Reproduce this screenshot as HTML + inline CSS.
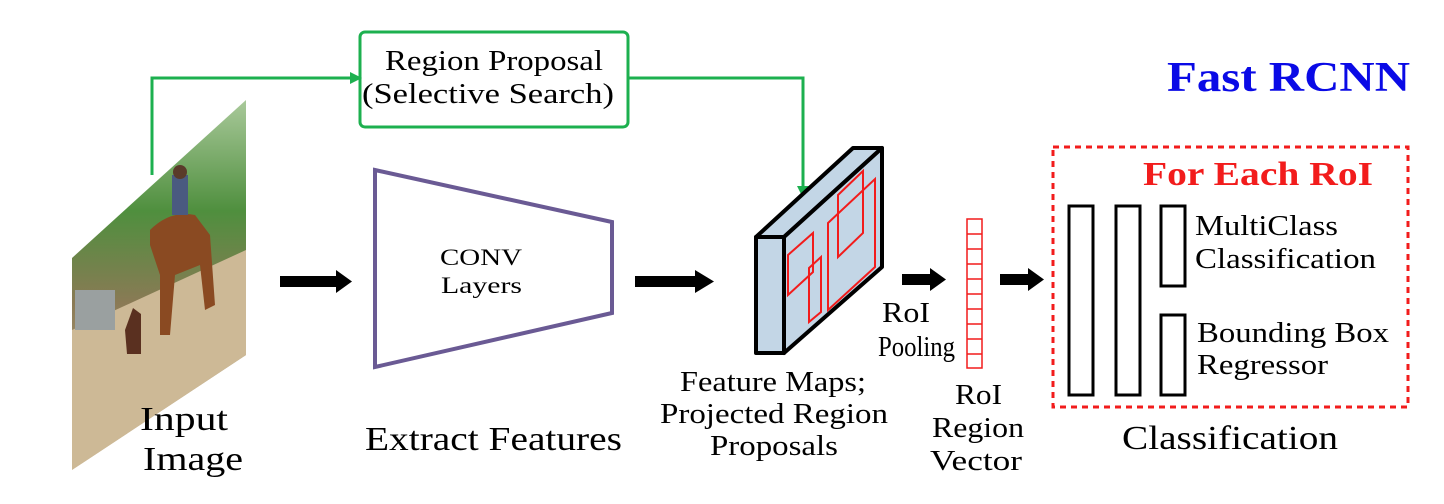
<!DOCTYPE html>
<html><head><meta charset="utf-8"><style>
html,body{margin:0;padding:0;background:#fff;}
svg{display:block;}
svg text{font-family:"Liberation Serif","Times New Roman","DejaVu Serif",serif !important;fill:#000;}
</style></head><body>
<svg width="1444" height="504" viewBox="0 0 1444 504" xmlns="http://www.w3.org/2000/svg" font-family="Liberation Serif, Times New Roman, DejaVu Serif, serif">
<defs>
<linearGradient id="img" x1="0" y1="0" x2="0" y2="1">
<stop offset="0" stop-color="#a9c99a"/><stop offset="0.3" stop-color="#4f8f3e"/><stop offset="0.55" stop-color="#8a7a55"/><stop offset="1" stop-color="#d6c3a3"/>
</linearGradient>
<clipPath id="pc"><polygon points="72,258 246,100 246,355 72,470"/></clipPath>
</defs>
<polygon points="72,258 246,100 246,355 72,470" fill="url(#img)"/>
<g clip-path="url(#pc)">
<polygon points="72,330 246,250 246,360 72,470" fill="#cdb996"/>
<rect x="75" y="290" width="40" height="40" fill="#9aa0a0"/>
<path d="M150,230 q20,-20 45,-15 l15,20 l5,70 l-10,5 l-5,-45 l-25,10 l-5,60 l-10,0 l0,-60 l-10,-30z" fill="#8a4a22"/>
<rect x="172" y="175" width="16" height="40" fill="#4a5a80"/>
<circle cx="180" cy="172" r="7" fill="#5a3a2a"/>
<path d="M125,330 l8,-22 l8,6 l0,40 l-14,0z" fill="#5a3020"/>
</g>
<g stroke="#1db04f" stroke-width="3" fill="none">
<polyline points="152,175 152,78 352,78"/>
<polyline points="628,78 803,78 803,188"/>
<rect x="360" y="32" width="268" height="95" rx="5"/>
</g>
<polygon points="350,72 362,78 350,84" fill="#1db04f"/>
<polygon points="797,186 803,198 809,186" fill="#1db04f"/>
<g lengthAdjust="spacingAndGlyphs">
<text x="385" y="70" font-size="28" textLength="218" lengthAdjust="spacingAndGlyphs">Region Proposal</text>
<text x="362" y="103" font-size="28" textLength="252" lengthAdjust="spacingAndGlyphs">(Selective Search)</text>
<text x="1167" y="91" font-size="42" font-weight="bold" textLength="243" lengthAdjust="spacingAndGlyphs" style="fill:#0a0ae6">Fast RCNN</text>
<text x="440" y="265" font-size="23" textLength="82" lengthAdjust="spacingAndGlyphs">CONV</text>
<text x="441" y="293" font-size="23" textLength="81" lengthAdjust="spacingAndGlyphs">Layers</text>
<text x="1143" y="185" font-size="34" font-weight="bold" textLength="230" lengthAdjust="spacingAndGlyphs" style="fill:#f21c1c">For Each RoI</text>
<text x="1195" y="235" font-size="28" textLength="143" lengthAdjust="spacingAndGlyphs">MultiClass</text>
<text x="1195" y="268" font-size="28" textLength="181" lengthAdjust="spacingAndGlyphs">Classification</text>
<text x="1197" y="342" font-size="28" textLength="192" lengthAdjust="spacingAndGlyphs">Bounding Box</text>
<text x="1197" y="374" font-size="28" textLength="131" lengthAdjust="spacingAndGlyphs">Regressor</text>
<text x="140" y="430" font-size="34" textLength="88" lengthAdjust="spacingAndGlyphs">Input</text>
<text x="143" y="470" font-size="34" textLength="100" lengthAdjust="spacingAndGlyphs">Image</text>
<text x="365" y="450" font-size="34" textLength="257" lengthAdjust="spacingAndGlyphs">Extract Features</text>
<text x="680" y="391" font-size="28" textLength="186" lengthAdjust="spacingAndGlyphs">Feature Maps;</text>
<text x="660" y="423" font-size="28" textLength="228" lengthAdjust="spacingAndGlyphs">Projected Region</text>
<text x="710" y="455" font-size="28" textLength="128" lengthAdjust="spacingAndGlyphs">Proposals</text>
<text x="882" y="322" font-size="28" textLength="48" lengthAdjust="spacingAndGlyphs">RoI</text>
<text x="878" y="356" font-size="28" textLength="77" lengthAdjust="spacingAndGlyphs">Pooling</text>
<text x="955" y="404" font-size="28" textLength="47" lengthAdjust="spacingAndGlyphs">RoI</text>
<text x="932" y="437" font-size="28" textLength="92" lengthAdjust="spacingAndGlyphs">Region</text>
<text x="930" y="470" font-size="28" textLength="92" lengthAdjust="spacingAndGlyphs">Vector</text>
<text x="1122" y="449" font-size="34" textLength="216" lengthAdjust="spacingAndGlyphs">Classification</text>
</g>
<polygon points="375,170 612,222 612,313 375,367" fill="none" stroke="#6a5a94" stroke-width="4"/>
<g fill="#000">
<rect x="280" y="276" width="58" height="11"/><polygon points="336,270 352,281.5 336,293"/>
<rect x="635" y="276" width="62" height="11"/><polygon points="695,270 714,281.5 695,293"/>
<rect x="902" y="274" width="30" height="11"/><polygon points="930,268 946,279.5 930,291"/>
<rect x="1000" y="274" width="30" height="11"/><polygon points="1028,268 1044,279.5 1028,291"/>
</g>
<g stroke="#000" stroke-width="4" stroke-linejoin="round" fill="#c3d6e6">
<polygon points="756,237 853,148 882,148 784,237"/>
<polygon points="784,237 882,148 882,267 784,353"/>
<rect x="756" y="237" width="28" height="116"/>
</g>
<g stroke="#f21c1c" stroke-width="2" fill="none">
<polygon points="788,255 813,233 813,272 788,295"/>
<polygon points="809,268 821,257 821,312 809,322"/>
<polygon points="828,223 875,179 875,267 828,310"/>
<polygon points="838,195 863,171 863,233 838,257"/>
</g>
<g stroke="#f21c1c" stroke-width="1.5" fill="#fff">
<rect x="967" y="219" width="15" height="149"/>
<path d="M967,234h15M967,249h15M967,264h15M967,279h15M967,294h15M967,309h15M967,324h15M967,339h15M967,354h15" fill="none"/>
</g>
<rect x="1053" y="147" width="355" height="260" fill="none" stroke="#f21c1c" stroke-width="3" stroke-dasharray="6,5"/>
<g fill="none" stroke="#000" stroke-width="3">
<rect x="1069" y="206" width="24" height="189"/>
<rect x="1116" y="206" width="24" height="189"/>
<rect x="1161" y="206" width="24" height="80"/>
<rect x="1161" y="315" width="24" height="80"/>
</g>
</svg>
</body></html>
